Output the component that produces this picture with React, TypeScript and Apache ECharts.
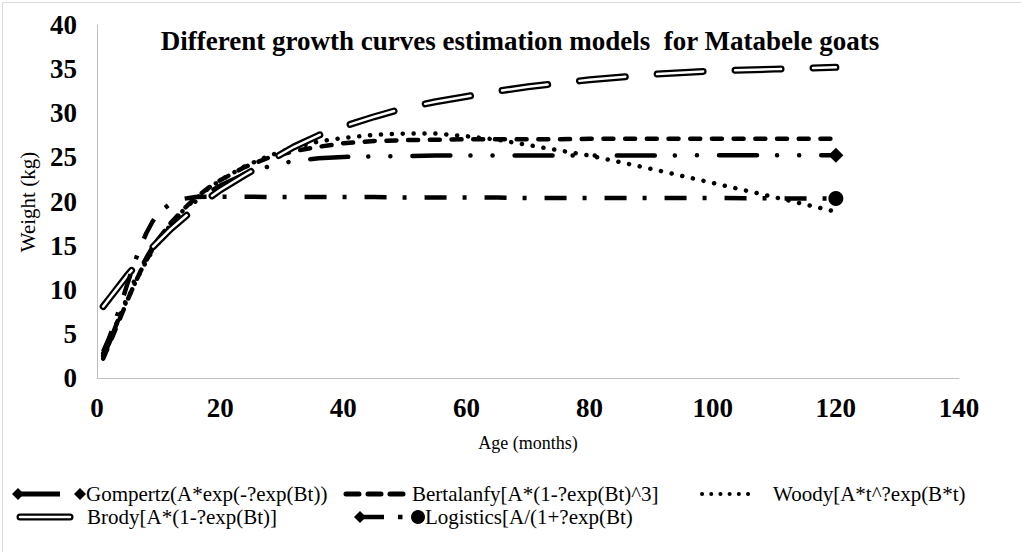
import React, { useEffect, useRef } from "react";
import * as echarts from "echarts";

const ages = [1, 2, 3, 4, 5, 6, 7, 8, 9, 10, 12, 14, 16, 18, 20, 24, 28, 32, 36, 40, 45, 50, 55, 60, 65, 70, 75, 80, 90, 100, 110, 120];

const gompertz = [2.5, 4.0, 5.8, 7.6, 9.3, 10.9, 12.3, 13.6, 14.8, 15.8, 17.5, 18.9, 20.0, 21.0, 21.8, 23.1, 24.0, 24.6, 24.9, 25.05, 25.1, 25.15, 25.2, 25.2, 25.2, 25.2, 25.2, 25.2, 25.2, 25.25, 25.25, 25.25];
const bertalanfy = [2.2, 3.8, 5.5, 7.2, 8.9, 10.5, 12.0, 13.3, 14.6, 15.7, 17.6, 19.1, 20.4, 21.5, 22.4, 23.9, 25.0, 25.7, 26.2, 26.6, 26.85, 26.95, 27.0, 27.05, 27.05, 27.05, 27.05, 27.1, 27.1, 27.1, 27.1, 27.1];
const woody = [2.8, 4.3, 5.9, 7.5, 9.0, 10.5, 11.9, 13.2, 14.4, 15.5, 17.4, 19.0, 20.3, 21.4, 22.4, 24.0, 25.2, 26.1, 26.8, 27.2, 27.55, 27.7, 27.7, 27.4, 27.0, 26.4, 25.8, 25.2, 23.7, 22.1, 20.5, 18.85];
const brody = [8.1, 9.0, 9.9, 10.8, 11.7, 12.5, 13.3, 14.1, 14.8, 15.5, 16.9, 18.1, 19.3, 20.3, 21.3, 23.0, 24.6, 26.2, 27.5, 28.5, 29.6, 30.6, 31.3, 31.9, 32.5, 33.0, 33.4, 33.8, 34.4, 34.8, 35.0, 35.2];
const logistics = [3.0, 4.6, 6.5, 8.6, 10.8, 12.9, 14.8, 16.4, 17.7, 18.7, 19.8, 20.3, 20.5, 20.55, 20.55, 20.55, 20.5, 20.5, 20.5, 20.5, 20.5, 20.45, 20.45, 20.45, 20.45, 20.4, 20.4, 20.4, 20.4, 20.4, 20.35, 20.35];

const seriesNames = [
  "Gompertz(A*exp(-?exp(Bt))",
  "Bertalanfy[A*(1-?exp(Bt)^3]",
  "Woody[A*t^?exp(B*t)",
  "Brody[A*(1-?exp(Bt)]",
  "Logistics[A/(1+?exp(Bt)",
];

const xTicks = { min: 0, max: 140, interval: 20 };
const yTicks = { min: 0, max: 40, interval: 5 };

const FONT = "'Liberation Serif', 'Times New Roman', serif";

function pairs(ys: number[]) {
  return ages.map((a, i) => [a, ys[i]]);
}

function diamond(x: number, y: number, r: number) {
  return {
    type: "polygon",
    shape: { points: [[x, y - r], [x + r, y], [x, y + r], [x - r, y]] },
    style: { fill: "#000" },
  };
}

function legendText(x: number, y: number, t: string) {
  return {
    type: "text",
    x,
    y,
    style: {
      text: t,
      font: `21px ${FONT}`,
      fill: "#000",
      textAlign: "left",
      textVerticalAlign: "middle",
    },
  };
}

export default function App() {
  const ref = useRef<HTMLDivElement>(null);
  useEffect(() => {
    if (!ref.current) return;
    const chart = echarts.init(ref.current, undefined, { renderer: "svg" });
    const last = ages.length - 1;
    const r1 = 494;
    const r2 = 517;
    chart.setOption({
      animation: false,
      backgroundColor: "#fff",
      grid: { left: 97, right: 62, top: 25, bottom: 174, containLabel: false },
      xAxis: {
        type: "value",
        min: xTicks.min,
        max: xTicks.max,
        interval: xTicks.interval,
        axisLine: { show: true, onZero: false, lineStyle: { color: "#BFBFBF", width: 1 } },
        axisTick: { show: false },
        splitLine: { show: false },
        axisLabel: { color: "#000", fontFamily: "Liberation Serif", fontWeight: "bold", fontSize: 27, margin: 16 },
      },
      yAxis: {
        type: "value",
        min: yTicks.min,
        max: yTicks.max,
        interval: yTicks.interval,
        axisLine: { show: true, lineStyle: { color: "#BFBFBF", width: 1 } },
        axisTick: { show: false },
        splitLine: { show: false },
        axisLabel: { color: "#000", fontFamily: "Liberation Serif", fontWeight: "bold", fontSize: 27, margin: 20 },
      },
      series: [
        {
          name: seriesNames[1],
          type: "line",
          data: pairs(bertalanfy),
          showSymbol: false,
          symbol: "none",
          lineStyle: { color: "#000", width: 4.5, type: [10, 11.7], cap: "round" },
          z: 3,
        },
        {
          name: seriesNames[0],
          type: "line",
          data: pairs(gompertz),
          symbol: "diamond",
          showSymbol: true,
          symbolSize: (_v: any, p: any) => (p.dataIndex === last ? 15 : 0),
          itemStyle: { color: "#000" },
          lineStyle: { color: "#000", width: 4.5, type: [38, 20, 0.1, 22, 0.1, 22], cap: "round" },
          z: 4,
        },
        {
          name: seriesNames[2],
          type: "line",
          data: pairs(woody),
          showSymbol: false,
          symbol: "none",
          lineStyle: { color: "#000", width: 4.5, type: [0.1, 10.8], cap: "round" },
          z: 5,
        },
        {
          name: seriesNames[3],
          type: "line",
          data: pairs(brody),
          showSymbol: false,
          symbol: "none",
          lineStyle: { color: "#000", width: 7, type: [46, 32], cap: "round" },
          z: 6,
        },
        {
          name: seriesNames[3] + " inner",
          type: "line",
          data: pairs(brody),
          showSymbol: false,
          symbol: "none",
          lineStyle: { color: "#fff", width: 2.5, type: [46, 32], cap: "round" },
          z: 7,
        },
        {
          name: seriesNames[4],
          type: "line",
          data: pairs(logistics),
          symbol: "circle",
          showSymbol: true,
          symbolSize: (_v: any, p: any) => (p.dataIndex === last ? 15 : 0),
          itemStyle: { color: "#000" },
          lineStyle: { color: "#000", width: 4.5, type: [22, 16, 4, 18], cap: "butt" },
          z: 8,
        },
      ],
      graphic: [
        {
          type: "rect",
          shape: { x: 2.5, y: 2.5, width: 1040, height: 580 },
          style: { fill: "none", stroke: "#D9D9D9", lineWidth: 1 },
          silent: true,
        },
        {
          type: "text",
          x: 520,
          y: 41,
          style: {
            text: "Different growth curves estimation models  for Matabele goats",
            font: `bold 27px ${FONT}`,
            fill: "#000",
            textAlign: "center",
            textVerticalAlign: "middle",
          },
        },
        {
          type: "text",
          x: 528,
          y: 443,
          style: {
            text: "Age (months)",
            font: `18px ${FONT}`,
            fill: "#000",
            textAlign: "center",
            textVerticalAlign: "middle",
          },
        },
        {
          type: "text",
          x: 28,
          y: 202,
          rotation: Math.PI / 2,
          style: {
            text: "Weight (kg)",
            font: `21px ${FONT}`,
            fill: "#000",
            textAlign: "center",
            textVerticalAlign: "middle",
          },
        },
        // Row 1 legend
        diamond(18, r1, 6),
        { type: "line", shape: { x1: 18, y1: r1, x2: 60, y2: r1 }, style: { stroke: "#000", lineWidth: 5 } },
        diamond(80, r1, 6),
        legendText(86, r1, seriesNames[0]),
        {
          type: "line",
          shape: { x1: 346, y1: r1, x2: 403, y2: r1 },
          style: { stroke: "#000", lineWidth: 5, lineDash: [13, 9], lineCap: "round" },
        },
        legendText(412, r1, seriesNames[1]),
        {
          type: "line",
          shape: { x1: 702, y1: r1, x2: 757, y2: r1 },
          style: { stroke: "#000", lineWidth: 4, lineDash: [0.1, 9.1], lineCap: "round" },
        },
        legendText(773, r1, seriesNames[2]),
        // Row 2 legend
        { type: "line", shape: { x1: 20, y1: r2, x2: 70, y2: r2 }, style: { stroke: "#000", lineWidth: 7, lineCap: "round" } },
        { type: "line", shape: { x1: 20, y1: r2, x2: 70, y2: r2 }, style: { stroke: "#fff", lineWidth: 2.5, lineCap: "round" } },
        legendText(87, r2, seriesNames[3]),
        diamond(360, r2, 6),
        { type: "line", shape: { x1: 360, y1: r2, x2: 384, y2: r2 }, style: { stroke: "#000", lineWidth: 4.5 } },
        { type: "rect", shape: { x: 398, y: r2 - 2.25, width: 4.5, height: 4.5 }, style: { fill: "#000" } },
        { type: "circle", shape: { cx: 418, cy: r2, r: 7 }, style: { fill: "#000" } },
        legendText(425, r2, seriesNames[4]),
      ],
    });
    return () => chart.dispose();
  }, []);
  return (
    <div
      ref={ref}
      style={{ position: "absolute", left: 0, top: 0, width: 1021, height: 552, background: "#fff" }}
    />
  );
}
